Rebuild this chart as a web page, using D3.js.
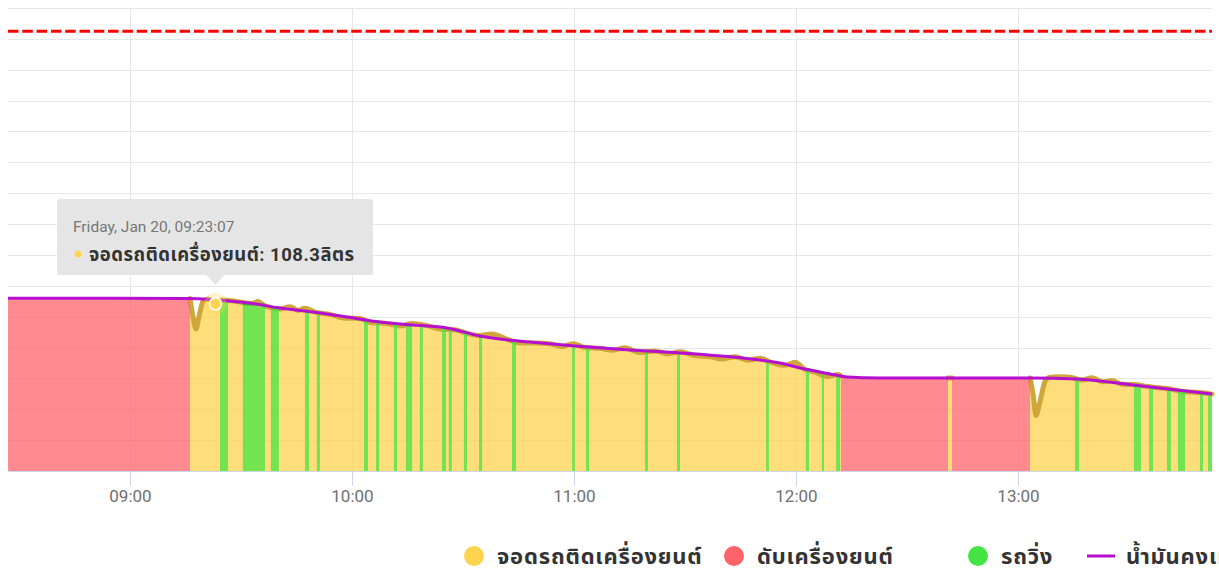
<!DOCTYPE html>
<html>
<head>
<meta charset="utf-8">
<script src="https://cdn.jsdelivr.net/npm/d3@7"></script>
<style>
  body { margin: 0; background: #fff; overflow: hidden; }
  text { font-family: Roboto, "Noto Sans Thai", "Noto Sans", sans-serif; }
</style>
</head>
<body>
<div id="chart"></div>
<script>
// fuel level (smoothed) line
const fuelTimes = ["08:27:02", "09:16:13", "09:22:26", "09:31:37", "09:40:32", "09:49:28", "09:58:39",
  "10:07:34", "10:16:29", "10:25:41", "10:34:35", "10:40:00", "10:48:06", "11:00:16", "11:15:08",
  "11:28:39", "11:50:16", "11:55:41", "12:01:05", "12:09:11", "12:13:47", "12:22:42", "13:03:15",
  "13:15:57", "13:31:05", "13:52:26"];
const fuelLevels = [112.0, 111.8, 111.0, 109.0, 105.6, 103.0, 99.8,
  96.5, 94.6, 92.7, 87.5, 85.5, 83.6, 81.0, 78.4,
  76.5, 71.9, 70.0, 66.7, 62.9, 60.9, 60.3, 60.3,
  59.6, 55.7, 49.9];

// engine idling (parked, engine on) raw readings
const idleRun1 = [
  ["09:16:13", 111.8], ["09:17:02", 100.0], ["09:17:50", 92.0], ["09:18:39", 100.0], ["09:19:44", 110.0],
  ["09:21:05", 111.5], ["09:23:07", 108.3], ["09:24:52", 110.8], ["09:28:23", 110.0], ["09:32:58", 108.5],
  ["09:34:35", 109.8], ["09:36:29", 107.0], ["09:40:32", 105.0], ["09:43:15", 106.5], ["09:45:24", 104.0],
  ["09:47:18", 105.5], ["09:50:00", 103.0], ["09:54:03", 101.5], ["09:58:06", 99.0], ["10:02:10", 98.8],
  ["10:05:24", 96.0], ["10:08:55", 95.8], ["10:12:58", 94.0], ["10:16:13", 95.5], ["10:19:44", 94.5],
  ["10:23:47", 92.0], ["10:27:50", 91.5], ["10:31:21", 89.0], ["10:34:35", 87.8], ["10:37:50", 88.8],
  ["10:41:21", 86.0], ["10:45:24", 83.0], ["10:49:28", 83.0], ["10:53:31", 82.4], ["10:56:45", 80.6],
  ["10:59:44", 82.5], ["11:02:58", 80.0], ["11:07:02", 79.5], ["11:10:16", 78.2], ["11:13:47", 79.8],
  ["11:17:50", 76.8], ["11:21:53", 77.8], ["11:25:24", 75.8], ["11:28:39", 77.2], ["11:32:42", 74.8],
  ["11:36:45", 74.0], ["11:40:00", 72.5], ["11:43:31", 74.0], ["11:47:02", 71.8], ["11:50:16", 73.0],
  ["11:53:31", 70.2], ["11:57:02", 68.5], ["11:59:44", 70.5], ["12:02:26", 65.8], ["12:05:08", 64.0],
  ["12:08:23", 61.2], ["12:11:21", 62.5], ["12:12:10", 61.5]
];
const idleRun2 = [["12:41:05", 60.3], ["12:42:10", 60.3]];
const idleRun3 = [
  ["13:03:15", 60.3], ["13:04:03", 50.0], ["13:04:52", 36.0], ["13:05:57", 45.0], ["13:07:18", 58.0],
  ["13:08:39", 60.8], ["13:11:21", 61.0], ["13:14:03", 60.8], ["13:17:18", 59.0], ["13:20:00", 60.5],
  ["13:22:42", 57.8], ["13:25:24", 58.6], ["13:28:06", 56.2], ["13:31:37", 56.0], ["13:34:19", 55.0],
  ["13:37:50", 54.0], ["13:41:05", 53.2], ["13:44:19", 51.5], ["13:47:50", 51.0], ["13:50:32", 50.5],
  ["13:52:26", 49.8]
];

// engine off
const offRun1 = [["08:27:02", 112.0], ["09:16:13", 111.8]];
const offRun2 = [["12:12:10", 62.2], ["12:15:55", 60.8], ["12:20:00", 60.3], ["12:41:05", 60.3]];
const offRun3 = [["12:42:10", 60.3], ["13:03:15", 60.3]];

// driving stripes
const driveStart = ["09:24:20", "09:30:30", "09:38:05", "09:47:20", "09:50:30", "10:03:15", "10:06:30",
  "10:11:20", "10:14:35", "10:18:20", "10:24:20", "10:26:10", "10:30:15", "10:34:20", "10:43:15",
  "10:59:30", "11:03:15", "11:19:10", "11:27:50", "11:51:55", "12:02:40", "12:07:00", "12:10:50",
  "13:15:25", "13:31:20", "13:35:25", "13:40:15", "13:43:15", "13:49:10", "13:51:20"];
const driveEnd = ["09:26:30", "09:36:30", "09:40:15", "09:48:25", "09:51:20", "10:04:20", "10:07:20",
  "10:12:10", "10:16:15", "10:19:10", "10:25:25", "10:27:00", "10:31:05", "10:35:10", "10:44:20",
  "11:00:15", "11:04:05", "11:20:00", "11:28:40", "11:52:40", "12:03:30", "12:07:35", "12:11:55",
  "13:16:30", "13:33:15", "13:36:30", "13:41:20", "13:45:10", "13:50:00", "13:52:25"];
const driveLevel = [110.5, 108.0, 106.0, 103.5, 102.6, 97.8, 96.8,
  95.6, 94.8, 94.2, 92.9, 92.3, 89.9, 87.5, 84.6,
  81.1, 80.4, 77.8, 76.6, 71.2, 65.8, 63.8, 61.9,
  59.6, 55.4, 54.4, 52.9, 52.1, 50.7, 50.0];

const tankLimit = 285;
const hoverTime = "09:23:07";
const hoverValue = 108.3;
const seriesNames = ["จอดรถติดเครื่องยนต์", "ดับเครื่องยนต์", "รถวิ่ง", "น้ำมันคงเหลือ"];
const seriesColors = ["#fed34e", "#ff636a", "#44e444", "#b60fd2"];

const parseT = d3.timeParse("%Y-%m-%d %H:%M:%S");
const at = s => parseT("2023-01-20 " + s);

let svgW = 1219;
let svgH = 571;
let plot = { left: 8, right: 1212, top: 8, bottom: 471 };

let x = d3.scaleTime()
  .domain([at("08:27:02"), at("13:52:26")])
  .range([plot.left, plot.right]);

let y = d3.scaleLinear()
  .domain([0, 300])
  .range([plot.bottom, plot.top]);

let svg = d3.select("#chart")
  .append("svg")
  .attr("width", svgW)
  .attr("height", svgH);

// grid
svg.append("g")
  .selectAll("line")
  .data(y.ticks(15))
  .enter().append("line")
  .attr("x1", plot.left).attr("x2", plot.right)
  .attr("y1", d => Math.round(y(d)) + 0.5).attr("y2", d => Math.round(y(d)) + 0.5)
  .attr("stroke", "#e6e6e6");

let hours = x.ticks(d3.timeHour.every(1));
svg.append("g")
  .selectAll("line")
  .data(hours)
  .enter().append("line")
  .attr("x1", d => Math.round(x(d)) + 0.5).attr("x2", d => Math.round(x(d)) + 0.5)
  .attr("y1", plot.top).attr("y2", plot.bottom)
  .attr("stroke", "#e6e6e6");

// plot line: tank limit
svg.append("line")
  .attr("x1", plot.left).attr("x2", plot.right)
  .attr("y1", y(tankLimit)).attr("y2", y(tankLimit))
  .attr("stroke", "#ff0000")
  .attr("stroke-width", 3)
  .attr("stroke-dasharray", "10.5,3.8");

const toPts = run => run.map(d => [at(d[0]), d[1]]);

let area = d3.area()
  .x(d => x(d[0]))
  .y0(y(0))
  .y1(d => y(d[1]))
  .curve(d3.curveMonotoneX);

let edge = d3.line()
  .x(d => x(d[0]))
  .y(d => y(d[1]))
  .curve(d3.curveMonotoneX);

// idling
[idleRun1, idleRun2, idleRun3].forEach(run => {
  let pts = toPts(run);
  svg.append("path").attr("d", area(pts))
    .attr("fill", seriesColors[0]).attr("fill-opacity", 0.75);
  svg.append("path").attr("d", edge(pts))
    .attr("fill", "none").attr("stroke", "#cfa63a").attr("stroke-width", 5)
    .attr("stroke-linejoin", "round").attr("stroke-linecap", "round");
});

// engine off
[offRun1, offRun2, offRun3].forEach(run => {
  let pts = toPts(run);
  svg.append("path").attr("d", area(pts))
    .attr("fill", seriesColors[1]).attr("fill-opacity", 0.75);
});

// driving
let drive = driveStart.map((s, i) => [[at(s), driveLevel[i]], [at(driveEnd[i]), driveLevel[i]]]);
svg.append("g")
  .selectAll("path")
  .data(drive)
  .enter().append("path")
  .attr("d", d => area(d))
  .attr("fill", seriesColors[2]).attr("fill-opacity", 0.75);
svg.append("g")
  .selectAll("path")
  .data(drive)
  .enter().append("path")
  .attr("d", d => edge(d))
  .attr("fill", "none").attr("stroke", "#33b033").attr("stroke-width", 2);

// remaining fuel
let fuel = fuelTimes.map((t, i) => [at(t), fuelLevels[i]]);
svg.append("path")
  .attr("d", edge(fuel))
  .attr("fill", "none")
  .attr("stroke", seriesColors[3])
  .attr("stroke-width", 3);

// x axis
let xAxis = d3.axisBottom(x)
  .ticks(d3.timeHour.every(1))
  .tickFormat(d3.timeFormat("%H:%M"))
  .tickSize(15)
  .tickSizeOuter(0);
let gx = svg.append("g")
  .attr("transform", `translate(0,${plot.bottom})`)
  .call(xAxis);
gx.select(".domain").attr("stroke", "#ccd6eb");
gx.selectAll(".tick line").attr("stroke", "#ccd6eb");
gx.selectAll(".tick text")
  .attr("y", 31)
  .attr("dy", 0)
  .attr("fill", "#707070")
  .style("font-size", "17px");

// hover marker
let hx = x(at(hoverTime)), hy = y(hoverValue);
svg.append("circle").attr("cx", hx).attr("cy", hy).attr("r", 11)
  .attr("fill", seriesColors[0]).attr("fill-opacity", 0.3);
svg.append("circle").attr("cx", hx).attr("cy", hy).attr("r", 6)
  .attr("fill", seriesColors[0]).attr("stroke", "#fff").attr("stroke-width", 1.5);

// tooltip
let tip = svg.append("g");
tip.append("path")
  .attr("d", `M60,199 H370 Q373,199 373,202 V272 Q373,275 370,275 H${hx + 9} L${hx},285 L${hx - 9},275 H60 Q57,275 57,272 V202 Q57,199 60,199 Z`)
  .attr("fill", "#e3e3e3")
  .attr("fill-opacity", 0.94);
tip.append("text")
  .attr("x", 73).attr("y", 232)
  .attr("fill", "#777")
  .style("font-size", "15.5px")
  .text(d3.timeFormat("%A, %b %d, %H:%M:%S")(at(hoverTime)));
tip.append("circle").attr("cx", 78).attr("cy", 254).attr("r", 3.5).attr("fill", seriesColors[0]);
tip.append("text")
  .attr("x", 89).attr("y", 261)
  .attr("fill", "#333")
  .style("font-size", "18.5px")
  .style("font-weight", "bold")
  .style("letter-spacing", "0.5px")
  .text(`${seriesNames[0]}: ${hoverValue}ลิตร`);

// legend
let legendX = [463, 723, 967, 1087];
let legend = svg.append("g");
seriesNames.forEach((name, i) => {
  if (i < 3) {
    legend.append("circle")
      .attr("cx", legendX[i] + 11).attr("cy", 556).attr("r", 10)
      .attr("fill", seriesColors[i]);
  } else {
    legend.append("line")
      .attr("x1", legendX[i]).attr("x2", legendX[i] + 28)
      .attr("y1", 556).attr("y2", 556)
      .attr("stroke", seriesColors[i]).attr("stroke-width", 3);
  }
  legend.append("text")
    .attr("x", legendX[i] + (i < 3 ? 34 : 39)).attr("y", 564)
    .attr("fill", "#333")
    .style("font-size", "22px")
    .style("font-weight", "bold")
    .style("letter-spacing", "0.8px")
    .text(name);
});
</script>
</body>
</html>
